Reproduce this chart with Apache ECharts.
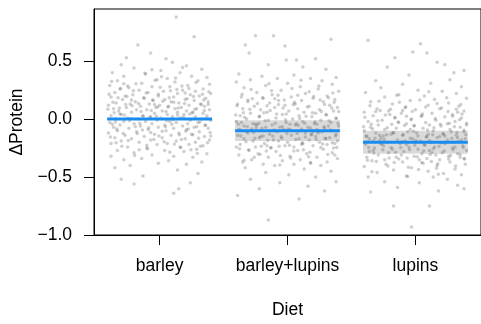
<!DOCTYPE html>
<html>
<head>
<meta charset="utf-8">
<script src="https://cdn.jsdelivr.net/npm/echarts@6/dist/echarts.min.js"></script>
<style>
  html, body { margin: 0; padding: 0; background: #fff; }
  #chart { width: 481px; height: 324px; }
</style>
</head>
<body>
<div id="chart"></div>
<script>
// diets on the x axis, one jittered cloud each
const diets = ['barley', 'barley+lupins', 'lupins'];
const yTicks = [-1.0, -0.5, 0.0, 0.5];

// fitted means and their bands (barley is the reference level)
const means = [0.0, -0.1, -0.2];
const bandLow = [0.0, -0.19, -0.30];
const bandHigh = [0.0, -0.01, -0.10];

// points as [jitter offset, ΔProtein]
const barleyPts = [
  [0.13,0.88],[0.27,0.71],[-0.17,0.64],[-0.07,0.57],[0.05,0.52],[-0.26,0.53],
  [0.10,0.49],[-0.30,0.47],[0.21,0.46],[-0.20,0.44],[0.33,0.43],[0.01,0.42],[-0.37,0.40],[0.16,0.40],[-0.11,0.39],[0.25,0.37],[-0.28,0.37],[0.37,0.36],[0.06,0.35],
  [-0.02,0.34],[-0.33,0.33],[0.30,0.33],[0.12,0.32],[-0.14,0.31],[0.39,0.30],[-0.39,0.29],[0.22,0.29],[-0.06,0.28],[0.08,0.28],[-0.24,0.27],[0.34,0.26],[-0.31,0.26],
  [0.18,0.25],[-0.16,0.25],[0.03,0.24],[0.28,0.24],[-0.09,0.23],[-0.35,0.23],[0.14,0.22],[0.40,0.22],[-0.21,0.21],[0.24,0.21],[-0.01,0.20],[0.31,0.20],[-0.27,0.20],
  [0.11,0.19],[-0.38,0.19],[0.36,0.18],[-0.12,0.18],[0.04,0.17],[0.20,0.17],[-0.29,0.17],[-0.05,0.16],[0.27,0.16],[-0.19,0.15],[0.38,0.15],[0.09,0.15],[-0.34,0.14],
  [0.15,0.14],[-0.08,0.13],[0.32,0.13],[-0.23,0.13],[0.00,0.12],[0.23,0.12],[-0.40,0.12],[-0.15,0.11],[0.07,0.11],[0.35,0.11],[-0.26,0.10],[0.17,0.10],[-0.03,0.10],
  [0.29,0.09],[-0.36,0.09],[0.12,0.09],[-0.18,0.08],[0.39,0.08],[-0.10,0.08],[0.21,0.07],[-0.32,0.07],[0.02,0.07],[0.26,0.06],[-0.22,0.06],[0.14,0.06],[-0.04,0.05],[0.34,0.05],
  [-0.30,0.04],[0.06,0.04],[0.19,0.04],[-0.13,0.03],[0.37,0.03],[-0.38,0.03],[0.10,0.02],[-0.07,0.02],[0.28,0.02],[-0.25,0.01],[0.01,0.01],[0.16,0.01],[-0.34,0.00],
  [0.33,0.00],[-0.17,0.00],[0.24,-0.01],[-0.02,-0.01],[0.40,-0.01],[-0.28,-0.02],[0.08,-0.02],[-0.11,-0.02],[0.30,-0.03],[-0.39,-0.03],[0.13,-0.03],[-0.20,-0.04],
  [0.22,-0.04],[-0.06,-0.04],[0.36,-0.05],[-0.31,-0.05],[0.04,-0.05],[0.18,-0.06],[-0.15,-0.06],[-0.36,-0.07],[0.27,-0.07],[-0.01,-0.07],[0.11,-0.08],[-0.24,-0.08],
  [0.38,-0.08],[-0.09,-0.09],[0.21,-0.09],[-0.33,-0.10],[0.05,-0.10],
  [0.31,-0.11],[-0.18,-0.11],[0.15,-0.12],[-0.40,-0.12],[-0.04,-0.13],[0.25,-0.13],[-0.27,-0.14],[0.09,-0.14],[0.35,-0.15],[-0.12,-0.15],[0.02,-0.16],[-0.35,-0.16],
  [0.20,-0.17],[-0.22,-0.17],[0.39,-0.18],[-0.07,-0.18],[0.13,-0.19],[-0.30,-0.19],[0.28,-0.20],[-0.16,-0.20],[0.06,-0.21],[-0.38,-0.21],[0.23,-0.22],[-0.02,-0.22],
  [0.34,-0.23],[-0.25,-0.24],[0.16,-0.24],[-0.10,-0.25],
  [0.29,-0.26],[-0.33,-0.27],[0.04,-0.27],[0.19,-0.28],[-0.20,-0.29],[0.37,-0.30],[-0.06,-0.31],[0.11,-0.32],[-0.38,-0.32],[0.26,-0.33],[-0.14,-0.34],[-0.28,-0.35],
  [0.07,-0.36],[0.33,-0.37],[-0.01,-0.38],[0.21,-0.39],[-0.23,-0.40],
  [-0.35,-0.42],[0.14,-0.44],[0.30,-0.47],[-0.13,-0.49],[-0.30,-0.52],[0.24,-0.55],[-0.20,-0.56],[0.11,-0.64],[0.15,-0.60]
];
const barleyCore = [
  [-0.395,0.215],[-0.365,0.145],[-0.335,-0.085],[-0.305,0.265],[-0.275,0.035],[-0.245,-0.185],[-0.215,0.115],[-0.185,0.305],[-0.155,-0.035],[-0.125,0.185],
  [-0.095,-0.255],[-0.065,0.075],[-0.035,0.335],[-0.005,-0.145],[0.025,0.155],[0.055,-0.015],[0.085,0.245],[0.115,-0.215],[0.145,0.095],[0.175,0.285],
  [0.205,-0.105],[0.235,0.045],[0.265,0.195],[0.295,-0.295],[0.325,0.125],[0.355,-0.055],[0.385,0.235],[-0.385,-0.155],[-0.355,0.055],[-0.325,0.185],
  [-0.295,-0.235],[-0.265,0.125],[-0.235,-0.015],[-0.205,0.245],[-0.175,-0.125],[-0.145,0.065],[-0.115,0.395],[-0.085,-0.075],[-0.055,0.165],[-0.025,0.025],
  [0.005,0.275],[0.035,-0.195],[0.065,0.105],[0.095,-0.045],[0.125,0.355],[0.155,-0.135],[0.185,0.015],[0.215,0.175],[0.245,-0.265],[0.275,0.085],
  [0.305,-0.165],[0.335,0.215],[0.365,0.005],[0.395,-0.115],[-0.375,0.325],[-0.345,-0.025],[-0.315,0.095],[-0.285,-0.125],[-0.255,0.195],[-0.225,0.005],
  [-0.195,-0.315],[-0.165,0.135],[-0.135,-0.095],[-0.105,0.225],[-0.075,0.015],[-0.045,-0.175],[-0.015,0.105],[0.015,0.365],[0.045,-0.065],[0.075,0.185],
  [0.105,-0.005],[0.135,0.255],[0.165,-0.245],[0.195,0.135],[0.225,-0.085],[0.255,0.055],[0.285,0.315],[0.315,-0.025],[0.345,0.165],[0.375,-0.205],
  [-0.405,0.085],[-0.37,-0.045],[-0.31,0.045],[-0.25,0.285],[-0.19,-0.065],[-0.13,0.025],[-0.07,-0.115],[-0.01,0.215],[0.05,0.065],[0.11,0.145],
  [0.17,-0.175],[0.23,0.265],[0.29,-0.065],[0.35,0.075],[0.40,-0.145],[-0.34,-0.205],[-0.22,0.165],[-0.10,-0.225],[0.02,-0.105],[0.14,0.035],
  [0.26,-0.135],[0.38,0.125],[-0.28,0.305],[-0.16,-0.265],[-0.04,0.125],[0.08,-0.285],[0.20,0.225],[0.32,-0.235],[-0.06,0.425],[0.18,0.445]
];
const mixPts = [
  [-0.25,0.72],[-0.11,0.72],[-0.33,0.64],[-0.02,0.63],[-0.30,0.57],[0.34,0.69],[0.07,0.51],[-0.01,0.51],[0.22,0.52],[-0.15,0.47],[0.12,0.45],[0.30,0.43],
  [-0.38,0.39],[0.05,0.38],[-0.20,0.37],[0.38,0.36],[-0.08,0.35],[0.18,0.35],[-0.29,0.34],[0.27,0.33],[-0.40,0.32],[0.00,0.31],[0.35,0.30],[-0.17,0.29],[0.10,0.28],
  [-0.34,0.27],[0.24,0.26],[-0.05,0.25],[0.40,0.24],[-0.24,0.23],[0.14,0.22],[-0.12,0.21],[0.31,0.20],
  [-0.36,0.19],[0.03,0.19],[0.20,0.18],[-0.19,0.18],[0.37,0.17],[-0.07,0.16],[0.11,0.16],[-0.31,0.15],[0.28,0.15],[-0.14,0.14],[0.06,0.13],[-0.39,0.13],[0.33,0.12],
  [-0.02,0.12],[0.17,0.11],[-0.26,0.11],[0.39,0.10],[-0.10,0.10],[0.08,0.09],[-0.35,0.09],[0.25,0.08],[-0.21,0.08],[0.01,0.07],[0.36,0.07],[-0.16,0.06],[0.13,0.06],
  [-0.29,0.05],[0.22,0.05],
  [-0.04,0.04],[0.30,0.04],[-0.37,0.03],[0.09,0.03],[-0.22,0.02],[0.19,0.02],[-0.09,0.01],[0.38,0.01],[-0.32,0.00],[0.04,0.00],[0.26,-0.01],[-0.15,-0.01],[-0.40,-0.02],
  [0.12,-0.02],[-0.01,-0.03],[0.34,-0.03],[-0.27,-0.04],[0.21,-0.04],[-0.12,-0.05],[0.06,-0.05],[0.40,-0.06],[-0.34,-0.06],[0.16,-0.07],[-0.06,-0.07],[0.29,-0.08],
  [-0.20,-0.08],[0.02,-0.09],[-0.38,-0.09],[0.23,-0.09],[-0.10,-0.10],[0.35,-0.10],[-0.28,-0.10],[0.10,-0.10],[-0.03,-0.09],[0.18,-0.08],[-0.17,-0.07],[0.32,-0.06],
  [-0.24,-0.05],[0.07,-0.04],[-0.36,-0.03],
  [0.27,-0.11],[-0.08,-0.11],[0.14,-0.12],[-0.31,-0.12],[0.38,-0.13],[-0.14,-0.13],[0.03,-0.14],[-0.39,-0.14],[0.22,-0.15],[-0.05,-0.15],[0.33,-0.16],[-0.22,-0.16],
  [0.09,-0.17],[-0.34,-0.17],[0.17,-0.18],[-0.11,-0.18],[0.39,-0.19],[-0.27,-0.19],[0.00,-0.20],[0.25,-0.20],[-0.18,-0.21],[0.12,-0.21],[-0.37,-0.22],[0.31,-0.22],
  [-0.02,-0.23],[0.20,-0.23],[-0.25,-0.24],[0.05,-0.24],[0.36,-0.25],[-0.13,-0.25],[-0.32,-0.11],[0.19,-0.13],[-0.21,-0.15],[0.30,-0.17],[-0.07,-0.19],[0.11,-0.22],
  [-0.40,-0.24],[0.24,-0.12],[-0.16,-0.23],[0.37,-0.21],
  [0.28,-0.26],[-0.30,-0.27],[0.08,-0.27],[-0.09,-0.28],[0.35,-0.29],[-0.23,-0.30],[0.15,-0.30],[-0.38,-0.31],[0.02,-0.32],[0.23,-0.33],[-0.15,-0.33],[0.39,-0.34],
  [-0.28,-0.35],[0.10,-0.35],[-0.04,-0.36],[0.31,-0.37],[-0.35,-0.37],[0.18,-0.38],[-0.19,-0.39],[0.05,-0.39],[0.26,-0.40],[-0.10,-0.40],[0.37,-0.31],[-0.26,-0.33],
  [-0.33,-0.42],[0.13,-0.43],[0.34,-0.45],[-0.17,-0.46],[0.01,-0.48],[0.22,-0.50],[-0.29,-0.52],[0.38,-0.54],[-0.06,-0.55],[0.16,-0.58],[-0.22,-0.60],[0.29,-0.62],
  [-0.39,-0.66],[0.09,-0.69],[-0.15,-0.87]
];
const mixCore = [
  [-0.395,0.115],[-0.365,-0.145],[-0.335,0.015],[-0.305,-0.265],[-0.275,0.175],[-0.245,-0.075],[-0.215,-0.305],[-0.185,0.055],[-0.155,-0.185],[-0.125,0.245],
  [-0.095,-0.035],[-0.065,-0.235],[-0.035,0.095],[-0.005,-0.125],[0.025,-0.335],[0.055,0.145],[0.085,-0.055],[0.115,-0.205],[0.145,0.025],[0.175,-0.285],
  [0.205,0.195],[0.235,-0.105],[0.265,0.065],[0.295,-0.165],[0.325,-0.015],[0.355,0.225],[0.385,-0.245],[-0.385,-0.045],[-0.355,0.215],[-0.325,-0.195],
  [-0.295,0.085],[-0.265,-0.115],[-0.235,0.135],[-0.205,-0.235],[-0.175,-0.015],[-0.145,0.305],[-0.115,-0.145],[-0.085,0.045],[-0.055,-0.315],[-0.025,0.165],
  [0.005,-0.085],[0.035,0.265],[0.065,-0.175],[0.095,0.005],[0.125,-0.265],[0.155,0.105],[0.185,-0.135],[0.215,-0.025],[0.245,0.285],[0.275,-0.215],
  [0.305,0.035],[0.335,-0.095],[0.365,0.145],[0.395,-0.035],[-0.375,-0.255],[-0.345,0.055],[-0.315,-0.065],[-0.285,0.255],[-0.255,-0.165],[-0.225,-0.035],
  [-0.195,0.185],[-0.165,-0.275],[-0.135,0.075],[-0.105,-0.095],[-0.075,0.205],[-0.045,-0.165],[-0.015,-0.005],[0.015,-0.225],[0.045,0.125],[0.075,-0.125],
  [0.105,0.335],[0.135,-0.035],[0.165,-0.325],[0.195,0.055],[0.225,-0.175],[0.255,0.165],[0.285,-0.065],[0.315,-0.305],[0.345,0.095],[0.375,-0.145],
  [-0.405,0.035],[-0.37,-0.095],[-0.31,0.165],[-0.25,-0.045],[-0.19,-0.145],[-0.13,-0.245],[-0.07,0.125],[-0.01,0.045],[0.05,-0.275],[0.11,-0.085],
  [0.17,0.235],[0.23,-0.045],[0.29,0.125],[0.35,-0.205],[0.40,0.065],[-0.34,-0.355],[-0.22,0.025],[-0.10,0.175],[0.02,-0.045],[0.14,-0.155],
  [0.26,-0.245],[0.38,0.005],[-0.28,-0.085],[-0.16,0.115],[-0.04,-0.065],[0.08,0.205],[0.20,-0.105],[0.32,0.185],[-0.06,-0.395],[0.18,-0.375]
];
const lupinPts = [
  [-0.37,0.68],[0.04,0.65],[-0.02,0.58],[0.09,0.57],[-0.16,0.53],[0.23,0.47],[0.17,0.49],[-0.22,0.45],[0.30,0.40],[-0.05,0.38],[0.38,0.42],
  [0.27,0.34],[-0.31,0.33],[0.12,0.31],[-0.10,0.30],[0.36,0.28],[-0.27,0.27],[0.02,0.25],[0.21,0.24],[-0.39,0.23],[0.32,0.22],[-0.13,0.21],[0.07,0.20],[-0.24,0.19],
  [0.40,0.18],[0.15,0.17],[-0.04,0.16],[-0.35,0.15],[0.26,0.14],[-0.18,0.13],[0.10,0.12],[0.34,0.11],[-0.08,0.10],
  [-0.30,0.09],[0.19,0.09],[0.00,0.08],[-0.21,0.07],[0.38,0.07],[-0.40,0.06],[0.13,0.05],[-0.11,0.05],[0.29,0.04],[-0.33,0.03],[0.05,0.03],[0.23,0.02],[-0.16,0.01],
  [0.36,0.01],[-0.03,0.00],[-0.26,-0.01],[0.16,-0.01],[0.31,-0.02],[-0.37,-0.02],[0.08,-0.03],[-0.13,-0.03],[0.25,-0.04],[-0.07,-0.04],[0.40,-0.05],[-0.29,-0.05],
  [0.11,-0.05],[-0.20,0.04],[0.33,0.06],
  [-0.01,-0.06],[0.20,-0.06],[-0.35,-0.07],[0.35,-0.07],[-0.15,-0.08],[0.06,-0.08],[0.27,-0.09],[-0.24,-0.09],[-0.40,-0.10],[0.14,-0.10],[-0.06,-0.11],[0.38,-0.11],
  [-0.31,-0.12],[0.01,-0.12],[0.22,-0.13],[-0.19,-0.13],[0.32,-0.14],[-0.10,-0.14],[0.09,-0.15],[-0.38,-0.15],[0.17,-0.16],[-0.27,-0.16],[0.39,-0.17],[-0.02,-0.17],
  [0.25,-0.18],[-0.14,-0.18],[0.04,-0.19],[-0.33,-0.19],[0.30,-0.20],[-0.22,-0.20],[0.12,-0.20],[-0.08,-0.19],[0.36,-0.18],[-0.36,-0.17],[0.19,-0.15],[-0.17,-0.12],
  [0.28,-0.11],[-0.04,-0.09],[0.10,-0.13],[-0.28,-0.14],[0.33,-0.16],[0.00,-0.20],
  [-0.12,-0.21],[0.23,-0.21],[-0.39,-0.22],[0.07,-0.22],[0.37,-0.23],[-0.25,-0.23],[0.15,-0.24],[-0.05,-0.24],[-0.32,-0.25],[0.29,-0.25],[0.02,-0.26],[-0.18,-0.26],
  [0.40,-0.27],[0.11,-0.27],[-0.09,-0.28],[-0.36,-0.28],[0.21,-0.29],[-0.21,-0.29],[0.33,-0.30],[0.05,-0.30],[-0.29,-0.31],[0.16,-0.31],[-0.01,-0.32],[0.26,-0.32],
  [-0.15,-0.33],[-0.38,-0.33],[0.38,-0.34],[0.09,-0.34],[-0.24,-0.35],[0.19,-0.35],[-0.07,-0.22],[0.31,-0.24],[-0.33,-0.27],[0.13,-0.29],[-0.11,-0.31],[0.35,-0.33],
  [-0.27,-0.21],[0.03,-0.35],
  [-0.34,-0.36],[0.27,-0.37],[-0.10,-0.37],[0.06,-0.38],[0.39,-0.39],[-0.23,-0.39],[0.17,-0.40],[-0.40,-0.41],[-0.03,-0.42],[0.31,-0.43],[-0.17,-0.44],[0.10,-0.45],
  [-0.30,-0.46],[0.22,-0.47],[0.36,-0.48],[-0.07,-0.49],[-0.37,-0.50],[0.14,-0.50],
  [0.25,-0.52],[-0.24,-0.54],[0.03,-0.55],[0.33,-0.57],[-0.14,-0.59],[0.18,-0.62],[-0.35,-0.63],[-0.17,-0.75],[0.11,-0.75],[-0.03,-0.93],[0.38,-0.60]
];
const lupinCore = [
  [-0.395,0.015],[-0.365,-0.245],[-0.335,-0.085],[-0.305,-0.365],[-0.275,0.075],[-0.245,-0.175],[-0.215,-0.405],[-0.185,-0.045],[-0.155,-0.285],[-0.125,0.145],
  [-0.095,-0.135],[-0.065,-0.335],[-0.035,-0.005],[-0.005,-0.225],[0.025,-0.435],[0.055,0.045],[0.085,-0.155],[0.115,-0.305],[0.145,-0.075],[0.175,-0.385],
  [0.205,0.095],[0.235,-0.205],[0.265,-0.035],[0.295,-0.265],[0.325,-0.115],[0.355,0.125],[0.385,-0.345],[-0.385,-0.145],[-0.355,0.115],[-0.325,-0.295],
  [-0.295,-0.015],[-0.265,-0.215],[-0.235,0.035],[-0.205,-0.335],[-0.175,-0.115],[-0.145,0.205],[-0.115,-0.245],[-0.085,-0.055],[-0.055,-0.415],[-0.025,0.065],
  [0.005,-0.185],[0.035,0.165],[0.065,-0.275],[0.095,-0.095],[0.125,-0.365],[0.155,0.005],[0.185,-0.235],[0.215,-0.125],[0.245,0.185],[0.275,-0.315],
  [0.305,-0.065],[0.335,-0.195],[0.365,0.045],[0.395,-0.135],[-0.375,-0.355],[-0.345,-0.045],[-0.315,-0.165],[-0.285,0.155],[-0.255,-0.265],[-0.225,-0.135],
  [-0.195,0.085],[-0.165,-0.375],[-0.135,-0.025],[-0.105,-0.195],[-0.075,0.105],[-0.045,-0.265],[-0.015,-0.105],[0.015,-0.325],[0.045,0.025],[0.075,-0.225],
  [0.105,0.235],[0.135,-0.135],[0.165,-0.425],[0.195,-0.045],[0.225,-0.275],[0.255,0.065],[0.285,-0.165],[0.315,-0.405],[0.345,-0.005],[0.375,-0.245],
  [-0.405,-0.065],[-0.37,-0.195],[-0.31,0.065],[-0.25,-0.145],[-0.19,-0.245],[-0.13,-0.345],[-0.07,0.025],[-0.01,-0.055],[0.05,-0.375],[0.11,-0.185],
  [0.17,0.135],[0.23,-0.145],[0.29,0.025],[0.35,-0.305],[0.40,-0.035],[-0.34,-0.455],[-0.22,-0.075],[-0.10,0.075],[0.02,-0.145],[0.14,-0.255],
  [0.26,-0.345],[0.38,-0.095],[-0.28,-0.185],[-0.16,0.015],[-0.04,-0.165],[0.08,0.105],[0.20,-0.205],[0.32,0.085],[-0.06,-0.495],[0.18,-0.475]
];

const groups = [barleyPts.concat(barleyCore), mixPts.concat(mixCore), lupinPts.concat(lupinCore)];
const halfW = 0.41;
const font = 'Liberation Sans, Arial, Helvetica, sans-serif';
const minus = v => v.toFixed(1).replace('-', '\u2212');

const points = [];
groups.forEach((g, i) => {
  g.forEach(p => points.push([i + 1 + p[0], p[1]]));
});

const bands = [];
const lines = [];
diets.forEach((d, i) => {
  if (bandHigh[i] !== bandLow[i]) bands.push([i + 1, bandLow[i], bandHigh[i]]);
  lines.push([i + 1, means[i]]);
});

const chart = echarts.init(document.getElementById('chart'));
chart.setOption({
  animation: false,
  grid: {
    left: 94, top: 9, width: 398, height: 229,
    show: true, borderColor: '#000', borderWidth: 1
  },
  xAxis: {
    type: 'value', min: 0.487, max: 3.513,
    name: 'Diet', nameLocation: 'middle', nameGap: 66,
    nameTextStyle: { fontFamily: font, fontSize: 17.5, color: '#000' },
    splitLine: { show: false },
    axisLine: { show: true, onZero: false, lineStyle: { color: '#000', width: 1 } },
    axisTick: { show: true, length: 10, customValues: [1, 2, 3], lineStyle: { color: '#000' } },
    axisLabel: {
      customValues: [1, 2, 3], margin: 22,
      fontFamily: font, fontSize: 17.5, color: '#000',
      formatter: v => diets[Math.round(v) - 1]
    }
  },
  yAxis: {
    type: 'value', min: -1.0, max: 0.95,
    name: '\u0394Protein', nameLocation: 'middle', nameGap: 62, nameRotate: 90,
    nameTextStyle: { fontFamily: font, fontSize: 17.5, color: '#000' },
    splitLine: { show: false },
    axisLine: { show: true, onZero: false, lineStyle: { color: '#000', width: 1 } },
    axisTick: { show: true, length: 10, customValues: yTicks, lineStyle: { color: '#000' } },
    axisLabel: {
      customValues: yTicks, margin: 22,
      fontFamily: font, fontSize: 17.5, color: '#000',
      formatter: v => minus(v)
    }
  },
  series: [
    {
      type: 'custom',
      data: bands,
      renderItem: (params, api) => {
        const a = api.coord([api.value(0) - halfW, api.value(2)]);
        const b = api.coord([api.value(0) + halfW, api.value(1)]);
        return {
          type: 'rect',
          shape: { x: a[0], y: a[1], width: b[0] - a[0], height: b[1] - a[1] },
          style: { fill: 'rgba(150,150,150,0.35)' }
        };
      },
      z: 1
    },
    {
      type: 'scatter',
      data: points,
      symbolSize: 3.5,
      itemStyle: { color: 'rgba(70,70,70,0.32)' },
      silent: true,
      z: 2
    },
    {
      type: 'custom',
      data: lines,
      renderItem: (params, api) => {
        const a = api.coord([api.value(0) - halfW, api.value(1)]);
        const b = api.coord([api.value(0) + halfW, api.value(1)]);
        return {
          type: 'line',
          shape: { x1: a[0], y1: a[1], x2: b[0], y2: b[1] },
          style: { stroke: '#1a8cf0', lineWidth: 3 }
        };
      },
      z: 3
    }
  ]
});
</script>
</body>
</html>
